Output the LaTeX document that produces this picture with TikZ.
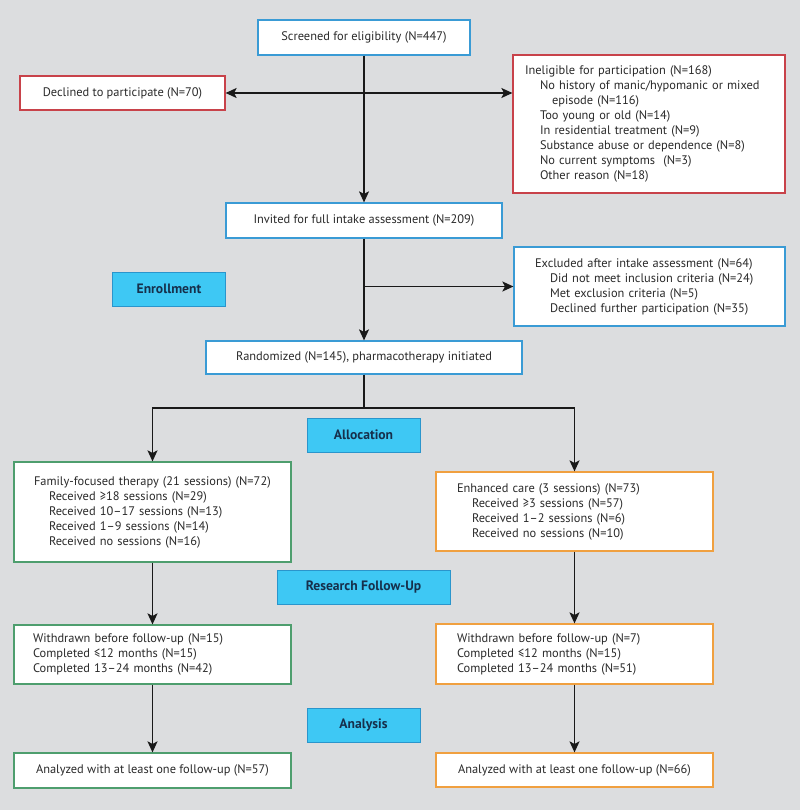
\documentclass[tikz,border=0pt]{standalone}
\usepackage{fontspec}
\setmainfont{PT Sans}
\usetikzlibrary{arrows.meta}
\definecolor{bg}{HTML}{DCDDDF}
\definecolor{bblue}{HTML}{3A9BD5}
\definecolor{bred}{HTML}{C8424A}
\definecolor{bgreen}{HTML}{4E9E6E}
\definecolor{borange}{HTML}{F0A040}
\definecolor{lblfill}{HTML}{3EC8F4}
\definecolor{lblline}{HTML}{2A95CC}
\definecolor{lbltext}{HTML}{16304C}
\definecolor{txt}{HTML}{2A2A2A}
\tikzset{
  box/.style={draw, fill=white, line width=1.2pt, inner sep=0pt, font=\fontsize{12.4}{15}\selectfont, text=txt},
  cbox/.style={box, align=center},
  lbox/.style={box, align=left},
  lbl/.style={draw=lblline, fill=lblfill, line width=0.8pt, minimum width=113pt, minimum height=34pt, inner sep=0pt, font=\fontsize{13.6}{15}\selectfont\bfseries, text=lbltext},
  conn/.style={line width=1.3pt, draw=black!90},
  arr/.style={conn, -{Stealth[length=11pt,width=10pt,inset=2.5pt]}},
  darr/.style={conn, {Stealth[length=11pt,width=10pt,inset=2.5pt]}-{Stealth[length=11pt,width=10pt,inset=2.5pt]}}
}
\newcommand{\ind}{\hspace*{15pt}}
\begin{document}
\begin{tikzpicture}[x=1pt,y=-1pt]
\fill[bg] (0,0) rectangle (800,810);
\useasboundingbox (0,0) rectangle (800,810);

\node[cbox, draw=bblue, minimum width=212pt, minimum height=35pt] (scr) at (364,37.5) {Screened for eligibility (N=447)};
\node[cbox, draw=bred, minimum width=205pt, minimum height=34pt] (decl) at (122.5,93) {Declined to participate (N=70)};
\node[lbox, draw=bred, minimum width=272pt, minimum height=138pt, text width=248pt] (inel) at (649,124) {Ineligible for participation (N=168)\\
\ind No history of manic/hypomanic or mixed\\
\ind\hspace*{12pt}episode (N=116)\\
\ind Too young or old (N=14)\\
\ind In residential treatment (N=9)\\
\ind Substance abuse or dependence (N=8)\\
\ind No current symptoms\ \ (N=3)\\
\ind Other reason (N=18)};
\node[cbox, draw=bblue, minimum width=276pt, minimum height=35pt] (inv) at (364,220.5) {Invited for full intake assessment (N=209)};
\node[lbox, draw=bblue, minimum width=271pt, minimum height=79pt, text width=229pt] (excl) at (649.5,286.5) {Excluded after intake assessment (N=64)\\
\ind Did not meet inclusion criteria (N=24)\\
\ind Met exclusion criteria (N=5)\\
\ind Declined further participation (N=35)};
\node[lbl] (enr) at (169,289) {Enrollment};
\node[cbox, draw=bblue, minimum width=316pt, minimum height=33pt] (rand) at (364,357.5) {Randomized (N=145), pharmacotherapy initiated};
\node[lbl] (alloc) at (363.5,435) {Allocation};
\node[lbox, draw=bgreen, minimum width=277pt, minimum height=100pt, text width=237pt] (fft) at (152.5,512) {Family-focused therapy (21 sessions) (N=72)\\
\ind Received ≥18 sessions (N=29)\\
\ind Received 10–17 sessions (N=13)\\
\ind Received 1–9 sessions (N=14)\\
\ind Received no sessions (N=16)};
\node[lbox, draw=borange, minimum width=277pt, minimum height=79pt, text width=235pt] (ec) at (574.5,511.5) {Enhanced care (3 sessions) (N=73)\\
\ind Received ≥3 sessions (N=57)\\
\ind Received 1–2 sessions (N=6)\\
\ind Received no sessions (N=10)};
\node[lbl, minimum width=173pt] (rfu) at (363.5,587) {Research Follow-Up};
\node[lbox, draw=bgreen, minimum width=277pt, minimum height=59pt, text width=239pt] (fftfu) at (152.5,654.5) {Withdrawn before follow-up (N=15)\\
Completed ≤12 months (N=15)\\
Completed 13–24 months (N=42)};
\node[lbox, draw=borange, minimum width=277pt, minimum height=60pt, text width=235pt] (ecfu) at (574.5,654) {Withdrawn before follow-up (N=7)\\
Completed ≤12 months (N=15)\\
Completed 13–24 months (N=51)};
\node[lbl] (ana) at (363.5,725.5) {Analysis};
\node[cbox, draw=bgreen, minimum width=277pt, minimum height=35pt] (fftan) at (152.5,770.5) {Analyzed with at least one follow-up (N=57)};
\node[cbox, draw=borange, minimum width=277pt, minimum height=34pt] (ecan) at (574.5,770) {Analyzed with at least one follow-up (N=66)};

\coordinate (split) at (364,408);
\draw[arr] (scr.south) -- (inv.north);
\draw[darr] (decl.east) -- (decl.east -| inel.west);
\draw[arr] (inv.south) -- (rand.north);
\draw[arr] (inv.south |- excl.west) -- (excl.west);
\draw[conn] (rand.south) -- (split);
\draw[arr] (split) -| (fft.north);
\draw[arr] (split) -| (ec.north);
\draw[arr] (fft.south) -- (fftfu.north);
\draw[arr] (ec.south) -- (ecfu.north);
\draw[arr] (fftfu.south) -- (fftan.north);
\draw[arr] (ecfu.south) -- (ecan.north);
\end{tikzpicture}
\end{document}
